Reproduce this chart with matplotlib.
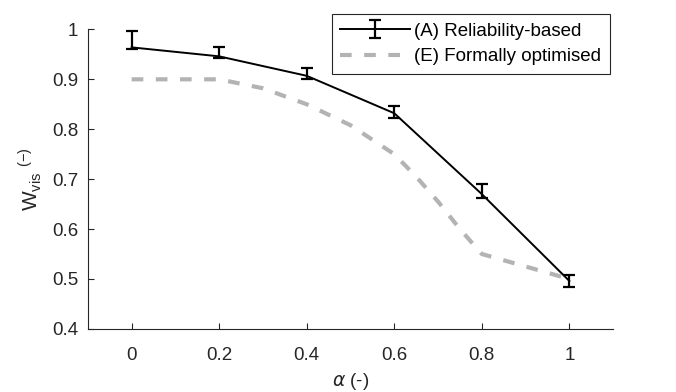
import numpy as np
import matplotlib.pyplot as plt
from matplotlib.ticker import FormatStrFormatter

plt.rcParams['font.family'] = ['Liberation Sans', 'DejaVu Sans']
plt.rcParams['mathtext.fontset'] = 'dejavusans'
plt.rcParams['lines.scale_dashes'] = False

# (A) Reliability-based, with asymmetric error bars
alpha_a = [0, 0.2, 0.4, 0.6, 0.8, 1.0]
w_a = [0.964, 0.946, 0.907, 0.832, 0.670, 0.496]
err_lo = [0.004, 0.003, 0.007, 0.009, 0.008, 0.013]
err_hi = [0.033, 0.019, 0.015, 0.015, 0.020, 0.012]

# (E) Formally optimised
alpha_e = [0, 0.2, 0.3, 0.4, 0.5, 0.6, 0.65, 0.7, 0.75, 0.8, 0.9, 1.0]
w_e = [0.9, 0.9, 0.882, 0.85, 0.808, 0.75, 0.705, 0.655, 0.60, 0.55, 0.525, 0.5]

axc = '#262626'
fs = 13.5

fig = plt.figure(figsize=(6.76, 3.92), dpi=100)
ax = fig.add_axes([0.130, 0.161, 0.777, 0.764])

ha = ax.errorbar(alpha_a, w_a, yerr=[err_lo, err_hi], color='black', lw=1.4,
                 elinewidth=1.6, capsize=4.2, capthick=1.6,
                 label='(A) Reliability-based', zorder=3)
he, = ax.plot(alpha_e, w_e, color='#b3b3b3', lw=3.0, dashes=(8.4, 9.0),
              label='(E) Formally optimised', zorder=2)

ax.set_xlim(-0.1, 1.1)
ax.set_ylim(0.4, 1.0)
ax.set_xticks([0, 0.2, 0.4, 0.6, 0.8, 1])
ax.set_yticks([0.4, 0.5, 0.6, 0.7, 0.8, 0.9, 1])
ax.xaxis.set_major_formatter(FormatStrFormatter('%g'))
ax.yaxis.set_major_formatter(FormatStrFormatter('%g'))
ax.tick_params(direction='in', length=4.5, width=0.8, colors=axc,
               labelsize=fs)
ax.tick_params(axis='x', pad=13)
ax.tick_params(axis='y', pad=7)
for s in ['top', 'right']:
    ax.spines[s].set_visible(False)
for s in ['left', 'bottom']:
    ax.spines[s].set_color(axc)
    ax.spines[s].set_linewidth(0.8)

ax.set_xlabel(r'$\alpha$ (-)', fontsize=fs, color=axc, labelpad=5)
ax.set_ylabel(r'W$_{\mathregular{vis}}$ $^{\mathregular{(-)}}$', fontsize=15,
              color=axc, labelpad=6)

leg = ax.legend([ha, he], ['(A) Reliability-based', '(E) Formally optimised'],
                loc='upper right', bbox_to_anchor=(0.902, 0.964),
                bbox_transform=fig.transFigure, borderaxespad=0,
                fontsize=fs, handlelength=3.7, handletextpad=0.25,
                fancybox=False, framealpha=1, borderpad=0.45,
                labelspacing=0.45)
leg.get_frame().set_edgecolor(axc)
leg.get_frame().set_linewidth(0.8)

fig.savefig('out.png', dpi=100)
